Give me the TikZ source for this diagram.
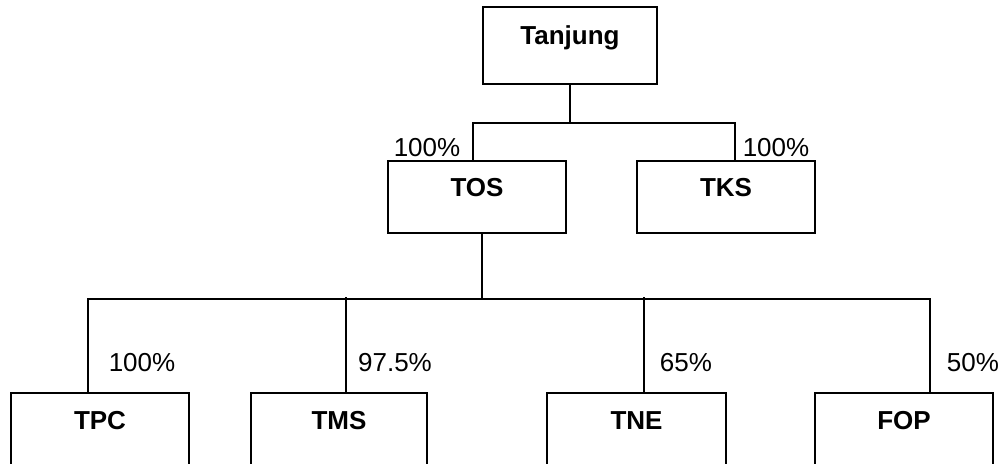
\documentclass[tikz,border=0pt]{standalone}
\usepackage{fontspec}
\setmainfont{Liberation Sans}
\usetikzlibrary{calc}
\begin{document}
\begin{tikzpicture}[x=1pt,y=-1pt,line width=1.6pt,
  box/.style={draw,rectangle,inner sep=0pt,font=\fontsize{26}{30}\selectfont\bfseries,text height=18pt,text depth=20pt},
  pct/.style={inner sep=0pt,font=\fontsize{26}{30}\selectfont}]
\useasboundingbox (0,0) rectangle (1003,463);
\clip (0,0) rectangle (1003,463);
% boxes
\node[box,minimum width=174pt,minimum height=77pt] (tan) at (570,45.5) {Tanjung};
\node[box,minimum width=178pt,minimum height=72pt] (tos) at (477,197) {TOS};
\node[box,minimum width=178pt,minimum height=72pt] (tks) at (726,197) {TKS};
\node[box,minimum width=178pt,minimum height=74pt] (tpc) at (100,430) {TPC};
\node[box,minimum width=176pt,minimum height=74pt] (tms) at (339,430) {TMS};
\node[box,minimum width=179pt,minimum height=74pt] (tne) at (636.5,430) {TNE};
\node[box,minimum width=178pt,minimum height=74pt] (fop) at (904,430) {FOP};
% connectors
\coordinate (j1) at ($(tan.south)+(0,38)$);
\draw (tan.south) -- (j1);
\draw ($(tos.north)+(-4,0)$) |- (j1) -| ($(tks.north)+(9,0)$);
\coordinate (j2) at ($(tos.south)+(5,65)$);
\draw ($(tos.south)+(5,0)$) -- (j2);
\draw ($(tpc.north)+(-12,0)$) |- (j2) -| ($(fop.north)+(26,0)$);
\draw ($(tms.north)+(7,0)$) -- ($(tms.north)+(7,-95)$);
\draw ($(tne.north)+(7.5,0)$) -- ($(tne.north)+(7.5,-95)$);
% labels
\node[pct] (l1) at (427,148) {100\%};
\node[pct] (l2) at (776,148) {100\%};
\node[pct] (l3) at (142,363) {100\%};
\node[pct] (l4) at (395,363) {97.5\%};
\node[pct] (l5) at (686,363) {65\%};
\node[pct] (l6) at (973,363) {50\%};
\end{tikzpicture}
\end{document}
